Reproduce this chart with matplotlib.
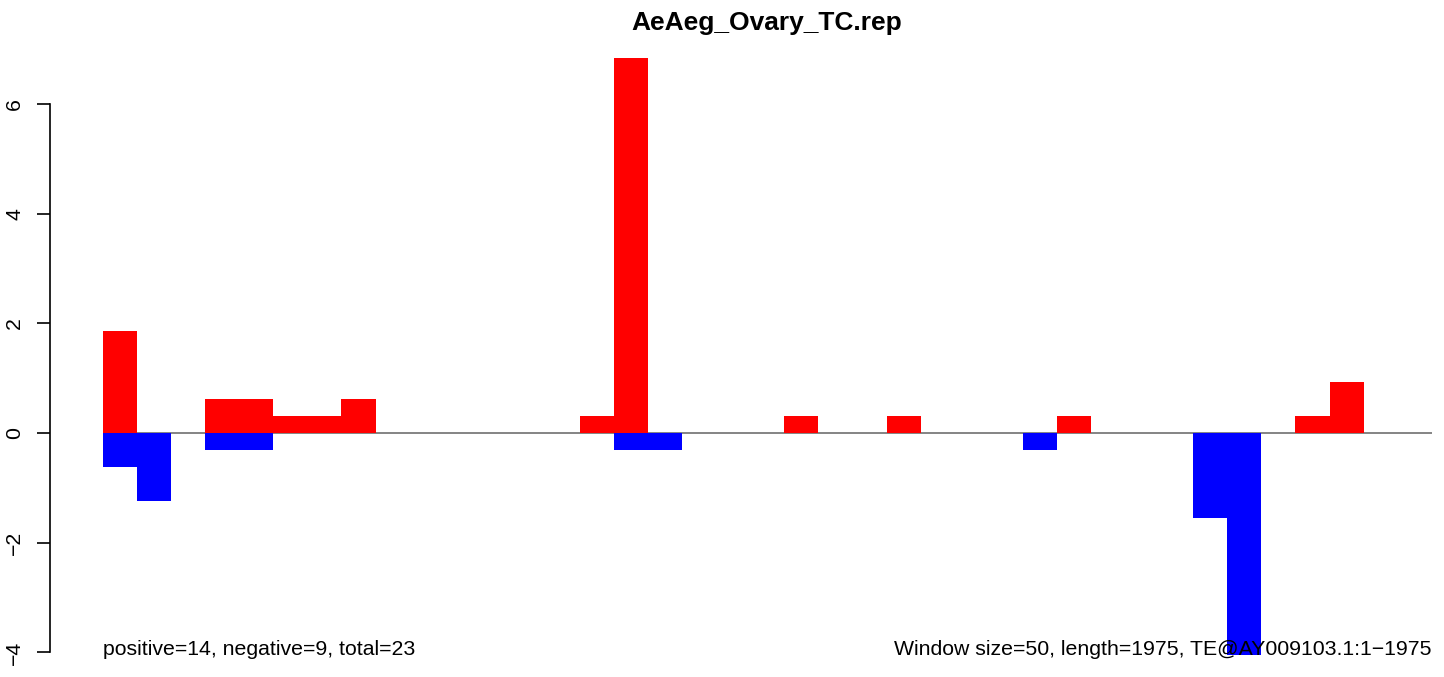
import matplotlib
matplotlib.use("Agg")
import matplotlib.pyplot as plt
import numpy as np

plt.rcParams['font.family'] = ['Liberation Sans', 'DejaVu Sans']

title = "AeAeg_Ovary_TC.rep"
left_note = "positive=14, negative=9, total=23"
right_note = "Window size=50, length=1975, TE@AY009103.1:1\u22121975"

n_windows = 39
# window index -> value
pos_index = [0, 3, 4, 5, 6, 7, 14, 15, 20, 23, 28, 35, 36]
pos_value = [1.86, 0.62, 0.62, 0.31, 0.31, 0.62, 0.31, 6.84, 0.31, 0.31, 0.31, 0.31, 0.93]
neg_index = [0, 1, 3, 4, 15, 16, 27, 32, 33]
neg_value = [-0.62, -1.24, -0.31, -0.31, -0.31, -0.31, -0.31, -1.55, -4.04]
y_ticks = [-4, -2, 0, 2, 4, 6]

pos = np.zeros(n_windows)
neg = np.zeros(n_windows)
pos[pos_index] = pos_value
neg[neg_index] = neg_value
x = np.arange(n_windows)

W, H = 1444, 677
fig = plt.figure(figsize=(W / 100, H / 100), dpi=100)

# axes placed in pixels: left spine at x=50, zero line at y=433
ax_l, ax_r, ax_t, ax_b = 50, 1440, 40, 670
ax = fig.add_axes([ax_l / W, 1 - ax_b / H, (ax_r - ax_l) / W, (ax_b - ax_t) / H])
unit_x = 34.07
unit_y = 54.85
ax.set_xlim(-(103 - ax_l) / unit_x, (ax_r - 103) / unit_x)
ax.set_ylim(-(ax_b - 433) / unit_y, (433 - ax_t) / unit_y)

ax.hlines(0, 0, n_windows, color='#707070', lw=1.2, zorder=1)
ax.bar(x, pos, width=1, align='edge', color='#ff0000', lw=0, zorder=2)
ax.bar(x, neg, width=1, align='edge', color='#0000ff', lw=0, zorder=2)

for s in ['top', 'right', 'bottom']:
    ax.spines[s].set_visible(False)
ax.spines['left'].set_bounds(-4, 6)
ax.spines['left'].set_linewidth(1.2)
ax.set_xticks([])
ax.set_yticks(y_ticks)
ax.tick_params(axis='y', length=9.5, width=1.2, pad=9, labelsize=15.3)
for lab in ax.get_yticklabels():
    lab.set_rotation(90)
    lab.set_va('center')

fig.text(767 / W, 1 - 23 / H, title, ha='center', va='center',
         fontsize=19, fontweight='bold')
ax.text(0, -4.04, left_note, ha='left', va='baseline', fontsize=15.3, zorder=5)
ax.text(n_windows, -4.04, right_note, ha='right', va='baseline', fontsize=15.3, zorder=5)

fig.savefig("out.png", dpi=100)
